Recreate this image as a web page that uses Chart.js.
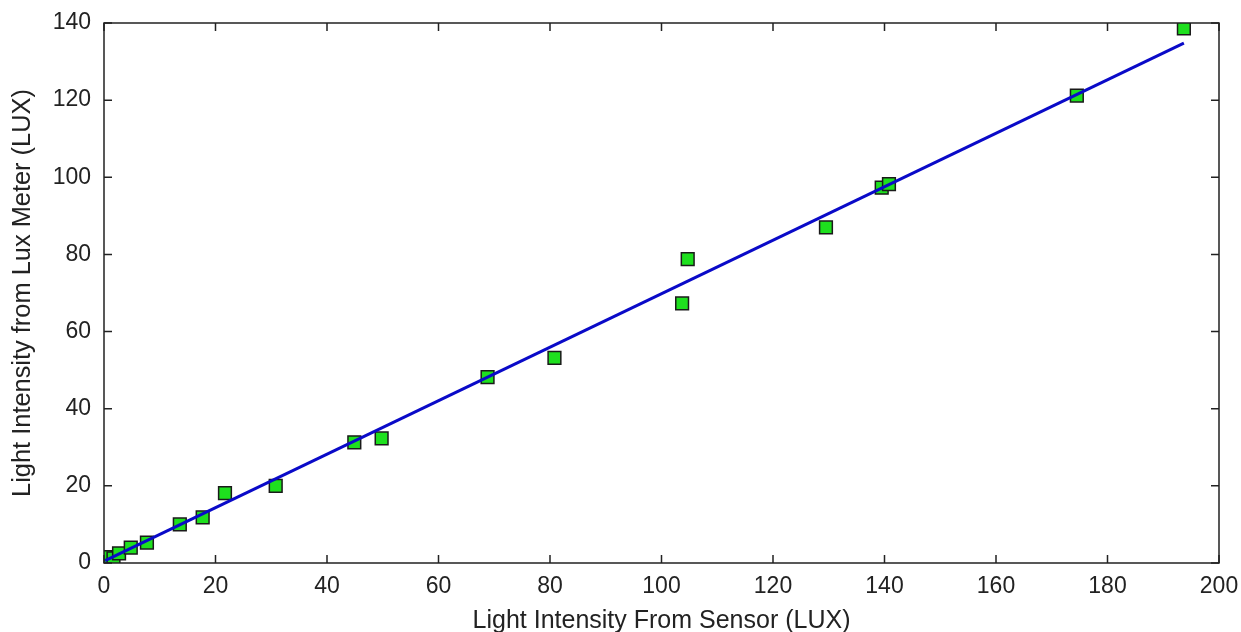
<!DOCTYPE html>
<html>
<head>
<meta charset="utf-8">
<script src="https://cdn.jsdelivr.net/npm/chart.js@4.4.1/dist/chart.umd.min.js"></script>
<style>
  html, body { margin: 0; padding: 0; background: #ffffff; }
  #wrap { width: 1241px; height: 632px; position: relative; }
</style>
</head>
<body>
<div id="wrap"><canvas id="c"></canvas></div>
<script>
// Measured data: sensor reading (x) vs lux meter reading (y)
const sensorLux = [0.2, 1.7, 2.7, 4.8, 7.7, 13.6, 17.7, 21.7, 30.8, 44.9, 49.8, 68.8, 80.8, 103.7, 104.7, 129.5, 139.5, 140.8, 174.5, 193.7];
const meterLux  = [1.5, 1.2, 2.5, 4.0, 5.3, 10.0, 11.8, 18.1, 20.0, 31.3, 32.3, 48.2, 53.2, 67.3, 78.8, 87.0, 97.3, 98.2, 121.2, 138.6];
// Fitted line endpoints
const fitX = [0.2, 193.7];
const fitY = [0.6, 134.8];
// Axis ticks
const xTicks = [0, 20, 40, 60, 80, 100, 120, 140, 160, 180, 200];
const yTicks = [0, 20, 40, 60, 80, 100, 120, 140];

const xTitle = 'Light Intensity From Sensor (LUX)';
const yTitle = 'Light Intensity from Lux Meter (LUX)';

const FONT = 'Liberation Sans, Arial, sans-serif';

const boxTicks = {
  id: 'boxTicks',
  afterDraw(chart) {
    const ctx = chart.ctx;
    const a = chart.chartArea;
    const xs = chart.scales.x, ys = chart.scales.y;
    const L = 8;
    ctx.save();
    ctx.strokeStyle = '#222222';
    ctx.lineWidth = 1.5;
    ctx.beginPath();
    ctx.rect(a.left, a.top, a.right - a.left, a.bottom - a.top);
    ctx.stroke();
    ctx.beginPath();
    xTicks.forEach(v => {
      const px = xs.getPixelForValue(v);
      ctx.moveTo(px, a.bottom); ctx.lineTo(px, a.bottom - L);
      ctx.moveTo(px, a.top); ctx.lineTo(px, a.top + L);
    });
    yTicks.forEach(v => {
      const py = ys.getPixelForValue(v);
      ctx.moveTo(a.left, py); ctx.lineTo(a.left + L, py);
      ctx.moveTo(a.right, py); ctx.lineTo(a.right - L, py);
    });
    ctx.stroke();
    ctx.restore();
  }
};

new Chart(document.getElementById('c'), {
  type: 'scatter',
  data: {
    datasets: [
      {
        label: 'fit',
        type: 'line',
        data: fitX.map((x, i) => ({ x: x, y: fitY[i] })),
        borderColor: '#0a0ac8',
        borderWidth: 3,
        pointRadius: 0,
        fill: false,
        order: 1
      },
      {
        label: 'measured',
        data: sensorLux.map((x, i) => ({ x: x, y: meterLux[i] })),
        pointStyle: 'rect',
        pointRadius: 9,
        pointHoverRadius: 9,
        backgroundColor: '#1ee01e',
        borderColor: '#1a1a1a',
        borderWidth: 1.5,
        order: 2
      }
    ]
  },
  options: {
    responsive: true,
    maintainAspectRatio: false,
    animation: false,
    events: [],
    layout: { padding: { top: 23, right: 22, left: 0, bottom: 0 } },
    plugins: {
      legend: { display: false },
      tooltip: { enabled: false }
    },
    scales: {
      x: {
        type: 'linear',
        min: 0, max: 200,
        afterBuildTicks: s => { s.ticks = xTicks.map(v => ({ value: v })); },
        grid: { display: false, drawTicks: false },
        border: { display: false },
        ticks: { color: '#222', font: { family: FONT, size: 23 }, padding: 10, maxRotation: 0 },
        title: { display: true, text: xTitle, color: '#222', font: { family: FONT, size: 25 }, padding: { top: 0, bottom: -4 } },
        afterFit: s => { s.height = 632 - 563; s.paddingLeft = 0; s.paddingRight = 0; }
      },
      y: {
        type: 'linear',
        min: 0, max: 140,
        afterBuildTicks: s => { s.ticks = yTicks.map(v => ({ value: v })); },
        grid: { display: false, drawTicks: false },
        border: { display: false },
        ticks: { color: '#222', font: { family: FONT, size: 23 }, padding: 13 },
        title: { display: true, text: yTitle, color: '#222', font: { family: FONT, size: 25.4 }, padding: { top: 8, bottom: 0 } },
        afterFit: s => { s.width = 104; s.paddingTop = 0; s.paddingBottom = 0; }
      }
    }
  },
  plugins: [boxTicks]
});
</script>
</body>
</html>
